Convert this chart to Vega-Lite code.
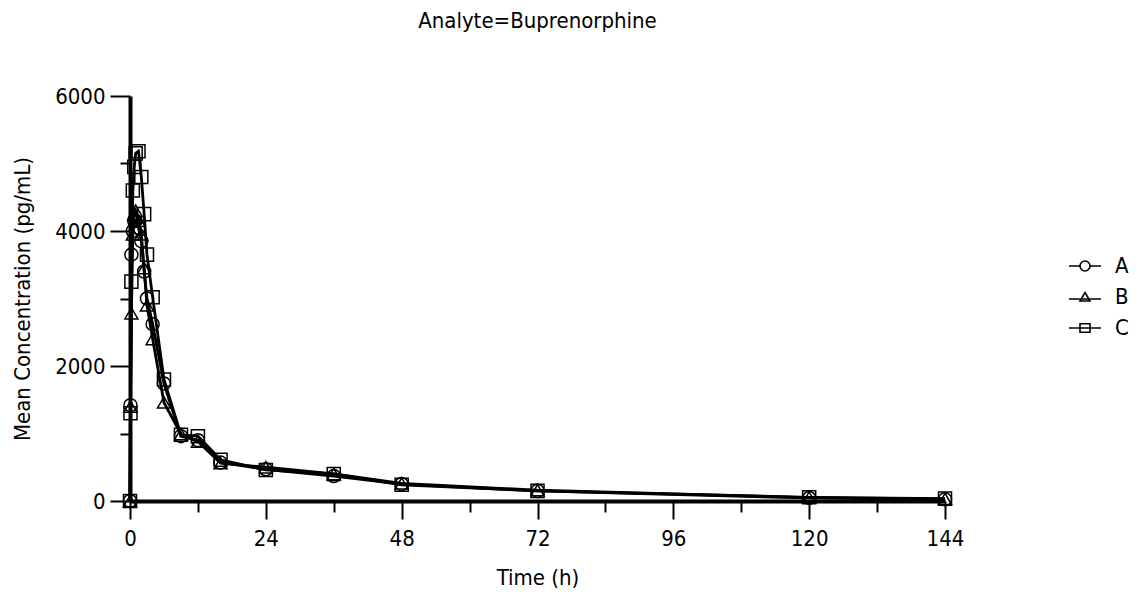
{
  "$schema": "https://vega.github.io/schema/vega-lite/v6.json",
  "width": 815,
  "height": 405,
  "autosize": {"type": "none"},
  "padding": {"left": 130, "top": 96, "right": 196, "bottom": 93},
  "background": "white",
  "title": {"text": "Analyte=Buprenorphine", "anchor": "middle", "offset": 52, "font": "DejaVu Sans Condensed, DejaVu Sans", "fontSize": 22, "fontWeight": "normal", "color": "black"},
  "config": {
    "view": {"stroke": null},
    "axis": {"labelFont": "DejaVu Sans Condensed, DejaVu Sans", "titleFont": "DejaVu Sans Condensed, DejaVu Sans", "labelFontSize": 22, "titleFontSize": 22, "titleFontWeight": "normal", "labelColor": "black", "titleColor": "black", "domainColor": "black", "domainWidth": 4, "tickColor": "black", "tickWidth": 2, "grid": false},
    "legend": {"labelFont": "DejaVu Sans Condensed, DejaVu Sans", "labelFontSize": 22, "labelColor": "black"}
  },
  "data": {"values": [
    {"t": 0, "c": 0, "g": "A"}, {"t": 0.083, "c": 1420, "g": "A"}, {"t": 0.25, "c": 3650, "g": "A"}, {"t": 0.5, "c": 4000, "g": "A"}, {"t": 0.75, "c": 4150, "g": "A"}, {"t": 1, "c": 4150, "g": "A"}, {"t": 1.5, "c": 4050, "g": "A"}, {"t": 2, "c": 3850, "g": "A"}, {"t": 2.5, "c": 3400, "g": "A"}, {"t": 3, "c": 3000, "g": "A"}, {"t": 4, "c": 2620, "g": "A"}, {"t": 6, "c": 1740, "g": "A"}, {"t": 9, "c": 960, "g": "A"}, {"t": 12, "c": 900, "g": "A"}, {"t": 16, "c": 570, "g": "A"}, {"t": 24, "c": 470, "g": "A"}, {"t": 36, "c": 370, "g": "A"}, {"t": 48, "c": 250, "g": "A"}, {"t": 72, "c": 150, "g": "A"}, {"t": 120, "c": 45, "g": "A"}, {"t": 144, "c": 25, "g": "A"},
    {"t": 0, "c": 0, "g": "B"}, {"t": 0.083, "c": 1400, "g": "B"}, {"t": 0.25, "c": 2780, "g": "B"}, {"t": 0.5, "c": 3950, "g": "B"}, {"t": 0.75, "c": 4250, "g": "B"}, {"t": 1, "c": 4300, "g": "B"}, {"t": 1.5, "c": 4150, "g": "B"}, {"t": 2, "c": 3950, "g": "B"}, {"t": 2.5, "c": 3450, "g": "B"}, {"t": 3, "c": 2900, "g": "B"}, {"t": 4, "c": 2400, "g": "B"}, {"t": 6, "c": 1460, "g": "B"}, {"t": 9, "c": 990, "g": "B"}, {"t": 12, "c": 880, "g": "B"}, {"t": 16, "c": 560, "g": "B"}, {"t": 24, "c": 500, "g": "B"}, {"t": 36, "c": 400, "g": "B"}, {"t": 48, "c": 260, "g": "B"}, {"t": 72, "c": 160, "g": "B"}, {"t": 120, "c": 50, "g": "B"}, {"t": 144, "c": 30, "g": "B"},
    {"t": 0, "c": 0, "g": "C"}, {"t": 0.083, "c": 1300, "g": "C"}, {"t": 0.25, "c": 3250, "g": "C"}, {"t": 0.5, "c": 4600, "g": "C"}, {"t": 0.75, "c": 4950, "g": "C"}, {"t": 1, "c": 5150, "g": "C"}, {"t": 1.5, "c": 5180, "g": "C"}, {"t": 2, "c": 4800, "g": "C"}, {"t": 2.5, "c": 4250, "g": "C"}, {"t": 3, "c": 3650, "g": "C"}, {"t": 4, "c": 3020, "g": "C"}, {"t": 6, "c": 1800, "g": "C"}, {"t": 9, "c": 980, "g": "C"}, {"t": 12, "c": 960, "g": "C"}, {"t": 16, "c": 610, "g": "C"}, {"t": 24, "c": 460, "g": "C"}, {"t": 36, "c": 400, "g": "C"}, {"t": 48, "c": 240, "g": "C"}, {"t": 72, "c": 150, "g": "C"}, {"t": 120, "c": 55, "g": "C"}, {"t": 144, "c": 35, "g": "C"}
  ]},
  "encoding": {
    "x": {"field": "t", "type": "quantitative", "scale": {"domain": [0, 144], "nice": false, "zero": false},
      "axis": {"title": "Time (h)", "values": [0, 12, 24, 36, 48, 60, 72, 84, 96, 108, 120, 132, 144], "labelExpr": "datum.value % 24 == 0 ? datum.label : ''", "tickSize": {"condition": {"test": "datum.value % 24 != 0", "value": 11}, "value": 18}, "labelPadding": 9, "titlePadding": 18, "labelFlush": false, "labelOverlap": false}},
    "y": {"field": "c", "type": "quantitative", "scale": {"domain": [0, 6000], "nice": false},
      "axis": {"title": "Mean Concentration (pg/mL)", "values": [0, 1000, 2000, 3000, 4000, 5000, 6000], "labelExpr": "datum.value % 2000 == 0 ? datum.label : ''", "tickSize": {"condition": {"test": "datum.value % 2000 != 0", "value": 10}, "value": 20}, "format": "d", "labelPadding": 5, "titlePadding": 20, "labelFlush": false, "labelOverlap": false}}
  },
  "layer": [
    {"mark": {"type": "line", "color": "black", "strokeWidth": 2.8}, "encoding": {"detail": {"field": "g"}}},
    {"mark": {"type": "point", "filled": false, "stroke": "black", "strokeWidth": 1.5, "size": 170, "opacity": 1},
      "encoding": {"shape": {"field": "g", "type": "nominal", "scale": {"domain": ["A", "B", "C"], "range": ["circle", "triangle-up", "square"]}, "legend": null}}},
    {"transform": [{"filter": "datum.t < 0"}],
      "mark": {"type": "point", "filled": false, "stroke": "black", "strokeWidth": 1.6, "size": 400, "opacity": 1},
      "encoding": {"shape": {"field": "g", "type": "nominal", "scale": {"domain": ["A", "B", "C"], "range": ["M-1.6,0L-0.5,0M0.5,0L1.6,0M0.5,0A0.5,0.5,0,1,1,-0.5,0A0.5,0.5,0,1,1,0.5,0", "M-1.6,0.2L1.6,0.2M0,-0.45L0.5,0.4L-0.5,0.4Z", "M-1.6,0L1.6,0M-0.5,-0.42L0.5,-0.42L0.5,0.42L-0.5,0.42Z"]},
        "legend": {"title": null, "orient": "none", "legendX": 944, "legendY": 159, "padding": 0, "symbolSize": 400, "symbolStrokeWidth": 1.6, "symbolStrokeColor": "black", "symbolFillColor": "transparent", "labelOffset": 19, "rowPadding": 9}}}}
  ],
  "resolve": {"scale": {"shape": "independent"}}
}
